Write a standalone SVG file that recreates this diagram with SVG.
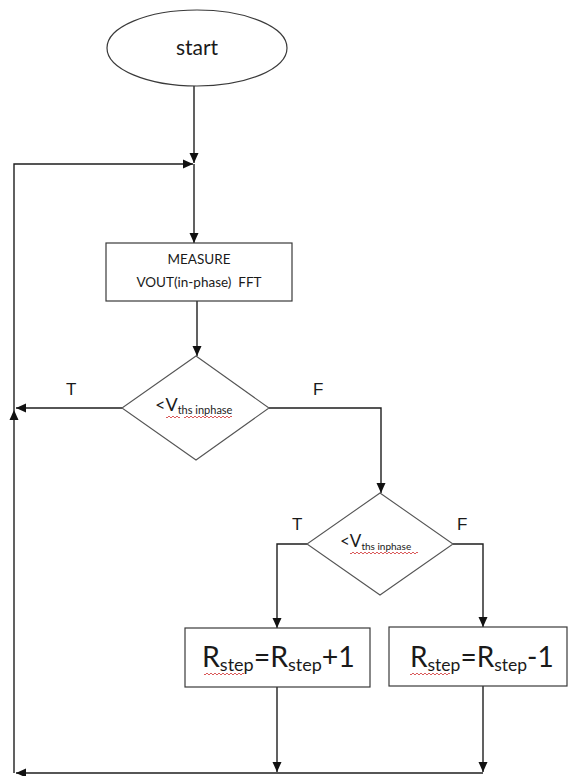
<svg xmlns="http://www.w3.org/2000/svg" width="568" height="776" viewBox="0 0 568 776">
<style>
.shape{fill:#fff;stroke:#3a3a3a;stroke-width:1.2}
.dia{fill:#fff;stroke:#555;stroke-width:1.1}
.conn{fill:none;stroke:#1e1e1e;stroke-width:1.4}
.t{font-family:Lato,"Open Sans","Liberation Sans",sans-serif;fill:#1a1a1a}
.lbl{font-family:"Liberation Sans",Arial,sans-serif;font-size:17px;fill:#1a1a1a}
.wavy{fill:none;stroke:#d03030;stroke-width:0.8}
</style>
<defs>
<marker id="ah" markerUnits="userSpaceOnUse" markerWidth="10" markerHeight="10" refX="10" refY="5" orient="auto">
<path d="M0,0.5 L10,5 L0,9.5 z" fill="#111"/>
</marker>
</defs>
<g id="connectors">
<path class="conn" d="M194 86 V163" marker-end="url(#ah)"/>
<path class="conn" d="M14 773 V410" marker-end="url(#ah)"/>
<path class="conn" d="M14 410 V164 H193" marker-end="url(#ah)"/>
<path class="conn" d="M194 164 V243" marker-end="url(#ah)"/>
<path class="conn" d="M197 301 V356" marker-end="url(#ah)"/>
<path class="conn" d="M122 408 H16" marker-end="url(#ah)"/>
<path class="conn" d="M269 408 H381 V493" marker-end="url(#ah)"/>
<path class="conn" d="M307 544 H277 V628" marker-end="url(#ah)"/>
<path class="conn" d="M453 544 H483 V627" marker-end="url(#ah)"/>
<path class="conn" d="M277 687 V772" marker-end="url(#ah)"/>
<path class="conn" d="M483 686 V772" marker-end="url(#ah)"/>
<path class="conn" d="M483 773 H16" marker-end="url(#ah)"/>
<text class="lbl" x="66" y="395">T</text>
<text class="lbl" x="313" y="395">F</text>
<text class="lbl" x="292" y="530">T</text>
<text class="lbl" x="457" y="530">F</text>
</g>
<g id="start">
<ellipse class="shape" cx="197" cy="48" rx="90" ry="38"/>
<text class="t" x="197" y="55" font-size="21" text-anchor="middle">start</text>
</g>
<g id="measure">
<rect class="shape" x="106" y="243" width="186" height="58"/>
<text class="t" x="199" y="264" font-size="13.5" text-anchor="middle">MEASURE</text>
<text class="t" x="199" y="287" font-size="13.5" text-anchor="middle" xml:space="preserve">VOUT(in-phase)  FFT</text>
</g>
<g id="decision1">
<polygon class="dia" points="196,356 269,408 196,460 122,408"/>
<text class="t" x="155" y="411" font-size="18">&lt;V<tspan font-size="11" dy="3">ths inphase</tspan></text>
<path class="wavy" d="M166 417 q1 2 2 0 t2 0 t2 0 t2 0 t2 0 t2 0 t2 0 M184 417 q1 2 2 0 t2 0 t2 0 t2 0 t2 0 t2 0 t2 0 t2 0 t2 0 t2 0 t2 0 t2 0 t2 0 t2 0 t2 0 t2 0 t2 0 t2 0 t2 0 t2 0 t2 0 t2 0 t2 0 t2 0"/>
</g>
<g id="decision2">
<polygon class="dia" points="380,493 453,544 380,595 307,544"/>
<text class="t" x="340" y="547" font-size="17">&lt;V<tspan font-size="10" dy="3">ths inphase</tspan></text>
<path class="wavy" d="M350 553 q1 2 2 0 t2 0 t2 0 t2 0 t2 0 t2 0 t2 0 t2 0 t2 0 t2 0 t2 0 t2 0 t2 0 t2 0 t2 0 t2 0 t2 0 t2 0 t2 0 t2 0 t2 0 t2 0 t2 0 t2 0 t2 0 t2 0 t2 0 t2 0 t2 0 t2 0 t2 0 t2 0 t2 0 t2 0"/>
</g>
<g id="inc">
<rect class="shape" x="185" y="628" width="185" height="59"/>
<text class="t" x="202" y="667" font-size="28.5">R<tspan font-size="18" dy="4">step</tspan><tspan dy="-4">=R</tspan><tspan font-size="18" dy="4">step</tspan><tspan dy="-4">+1</tspan></text>
<path class="wavy" d="M204 674 q1 2 2 0 t2 0 t2 0 t2 0 t2 0 t2 0 t2 0 t2 0 t2 0 t2 0 t2 0 t2 0 t2 0 t2 0 t2 0 t2 0 t2 0 t2 0 t2 0 t2 0"/>
</g>
<g id="dec">
<rect class="shape" x="389" y="627" width="178" height="59"/>
<text class="t" x="410" y="667" font-size="28">R<tspan font-size="17.5" dy="4">step</tspan><tspan dy="-4">=R</tspan><tspan font-size="17.5" dy="4">step</tspan><tspan dy="-4">-1</tspan></text>
<path class="wavy" d="M410 674 q1 2 2 0 t2 0 t2 0 t2 0 t2 0 t2 0 t2 0 t2 0 t2 0 t2 0 t2 0 t2 0 t2 0 t2 0 t2 0 t2 0 t2 0 t2 0 t2 0 t2 0"/>
</g>
</svg>
